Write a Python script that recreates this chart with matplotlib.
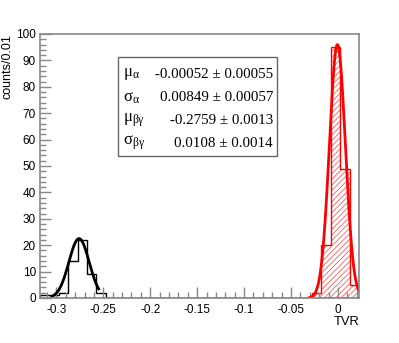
import numpy as np
import matplotlib
matplotlib.use("Agg")
import matplotlib.pyplot as plt
from matplotlib.ticker import MultipleLocator

# histogram binning (0.01 wide bins)
bin_lo = -0.3175
bin_width = 0.01
n_bins = 34

# counts per bin, gamma/beta sample (black) and alpha sample (red)
black_counts = [1, 1, 2, 14, 22, 9, 2] + [0] * 27
red_counts = [0] * 29 + [2, 20, 95, 49, 5]

# gaussian fit results: mean, sigma, amplitude, fit range
fit_alpha = [-0.00052, 0.00849, 96.0]
fit_bg = [-0.2759, 0.0108, 22.5]
range_alpha = [-0.03, 0.0225]
range_bg = [-0.305, -0.255]

# fit summary box
box_labels = [r"$\mathregular{\mu_{\alpha}}$", r"$\mathregular{\sigma_{\alpha}}$",
              r"$\mathregular{\mu_{\beta\gamma}}$", r"$\mathregular{\sigma_{\beta\gamma}}$"]
box_values = ["-0.00052 \u00b1 0.00055", "0.00849 \u00b1 0.00057",
              "-0.2759 \u00b1 0.0013", "0.0108 \u00b1 0.0014"]

plt.rcParams['font.family'] = ['Liberation Sans', 'DejaVu Sans']
plt.rcParams['hatch.linewidth'] = 0.5

edges = bin_lo + bin_width * np.arange(n_bins + 1)

fig = plt.figure(figsize=(3.99, 3.43), dpi=100)
ax = fig.add_axes([40 / 399, 45 / 343, 319 / 399, 264 / 343])

# red hatched fill + outlines
ax.stairs(red_counts, edges, fill=True, facecolor='none', edgecolor='#ff4040',
          hatch='//////', linewidth=0)
ax.stairs(red_counts, edges, color='red', linewidth=1)
ax.stairs(black_counts, edges, color='black', linewidth=1)


def gauss(x, p):
    return p[2] * np.exp(-0.5 * ((x - p[0]) / p[1]) ** 2)


xa = np.linspace(range_alpha[0], range_alpha[1], 300)
ax.plot(xa, gauss(xa, fit_alpha), color='red', linewidth=2)
xb = np.linspace(range_bg[0], range_bg[1], 300)
ax.plot(xb, gauss(xb, fit_bg), color='black', linewidth=2)

ax.set_xlim(bin_lo, bin_lo + n_bins * bin_width)
ax.set_ylim(0, 100)

# ROOT-like frame and ticks
for s in ax.spines.values():
    s.set_color('#888888')
    s.set_linewidth(1.2)
ax.xaxis.set_major_locator(MultipleLocator(0.05))
ax.xaxis.set_minor_locator(MultipleLocator(0.01))
ax.yaxis.set_major_locator(MultipleLocator(10))
ax.yaxis.set_minor_locator(MultipleLocator(2))
ax.tick_params(which='both', direction='in', color='#888888', width=1,
               top=False, right=False, labelsize=8.5)
ax.tick_params(which='major', length=8)
ax.tick_params(which='minor', length=4)
ax.tick_params(axis='x', pad=4)
ax.tick_params(axis='y', pad=3)
ax.xaxis.set_major_formatter(plt.FuncFormatter(lambda v, p: ('%g' % round(v, 3))))

ax.set_xlabel('TVR', fontsize=9.3, loc='right', labelpad=0)
ax.set_ylabel('counts/0.01', fontsize=9, loc='top')
ax.yaxis.set_label_coords(-0.082, 1.0)

# fit result box
bx0, by0 = 118 / 399, 1 - 156 / 343
bw, bh = (277 - 118) / 399, (156 - 57) / 343
fig.patches.append(plt.Rectangle((bx0, by0), bw, bh, transform=fig.transFigure,
                                 facecolor='white', edgecolor='#666666', linewidth=1, zorder=5))
row_y = [74.5, 97.5, 120, 143]
for i in range(4):
    yc = 1 - row_y[i] / 343
    fig.text(123 / 399, yc, box_labels[i], fontsize=12, family='Liberation Serif',
             va='center', ha='left', zorder=6)
    fig.text(273 / 399, yc, box_values[i], fontsize=10.8, family='Liberation Serif',
             va='center', ha='right', zorder=6)

fig.savefig('out.png', dpi=100)
